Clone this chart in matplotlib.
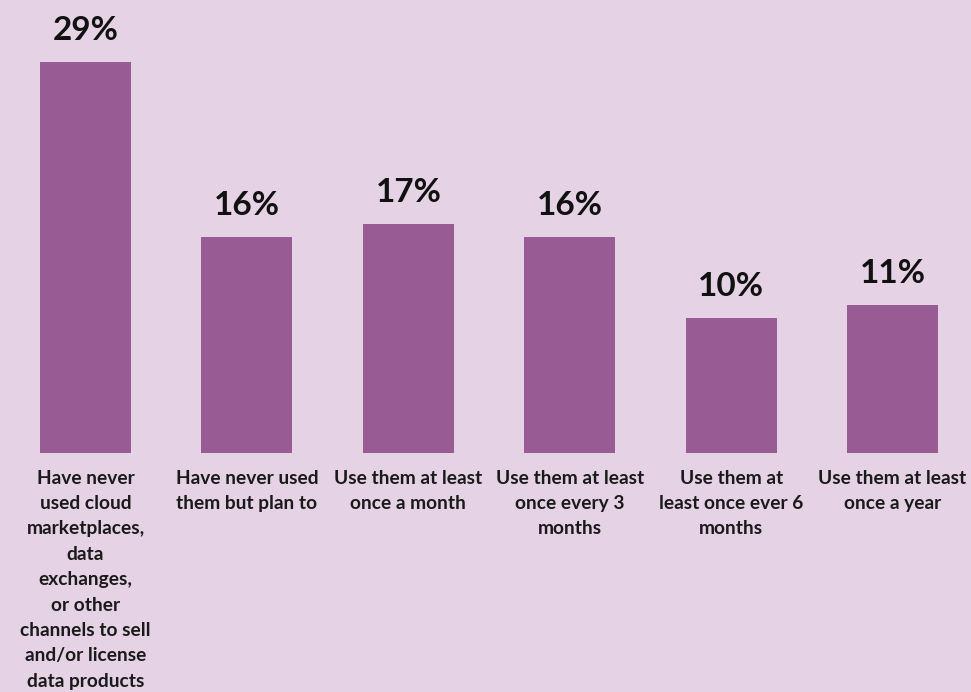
import matplotlib
matplotlib.use("Agg")
import matplotlib.pyplot as plt

# survey answers and their shares (%)
categories = [
    "Have never\nused cloud\nmarketplaces,\ndata\nexchanges,\nor other\nchannels to sell\nand/or license\ndata products",
    "Have never used\nthem but plan to",
    "Use them at least\nonce a month",
    "Use them at least\nonce every 3\nmonths",
    "Use them at\nleast once ever 6\nmonths",
    "Use them at least\nonce a year",
]
values = [29, 16, 17, 16, 10, 11]

bg = "#E5D3E5"
bar_color = "#985B93"

plt.rcParams["font.family"] = ["Lato", "DejaVu Sans"]

fig = plt.figure(figsize=(9.71, 6.92), dpi=100, facecolor=bg)
ax = fig.add_axes([0, 239 / 692, 1, 453 / 692])
ax.set_facecolor(bg)

x = range(len(values))
bars = ax.bar(x, values, width=0.564, color=bar_color)

for xi, v in zip(x, values):
    ax.annotate(f"{v}%", (xi, v), xytext=(0, 12), textcoords="offset points",
                ha="center", va="bottom", fontsize=24, fontweight="bold",
                color="#111111")

ax.set_xlim(-0.53, 5.486)
ax.set_ylim(0, 33.56)
ax.set_xticks(list(x))
ax.set_xticklabels(categories, fontsize=13.8, fontweight="bold",
                   color="#1a1a1a", linespacing=1.6, va="top", ha="center")
ax.tick_params(axis="x", length=0, pad=12)
ax.set_yticks([])
for s in ax.spines.values():
    s.set_visible(False)

fig.savefig("out.png", dpi=100, facecolor=bg)
